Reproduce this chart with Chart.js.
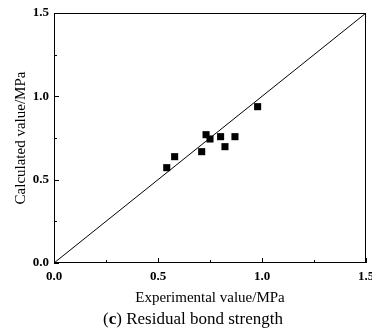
<!DOCTYPE html>
<html lang="en">
<head>
<meta charset="UTF-8">
<title>Residual bond strength</title>
<script src="https://cdn.jsdelivr.net/npm/chart.js"></script>
<style>
  html, body { margin: 0; padding: 0; background: #fff; overflow: hidden; }
  .wrap { width: 372px; height: 331px; }
</style>
</head>
<body>
<div class="wrap"><canvas id="myChart" width="372" height="331"></canvas></div>
<script>
  // Data
  const experimental = [0.542, 0.580, 0.710, 0.731, 0.750, 0.801, 0.822, 0.870, 0.979];
  const calculated   = [0.572, 0.638, 0.668, 0.770, 0.744, 0.758, 0.698, 0.758, 0.938];
  const lineEnds = [0, 1.5];          // 1:1 reference line
  const majorTicks = [0, 0.5, 1.0, 1.5];
  const minorTicks = [0.25, 0.75, 1.25];

  const serif = "'Liberation Serif', 'Times New Roman', serif";

  // inward tick marks + frame + caption
  const framePlugin = {
    id: 'frame',
    afterDraw(chart) {
      const ctx = chart.ctx;
      const a = chart.chartArea;
      const xs = chart.scales.x, ys = chart.scales.y;
      ctx.save();
      ctx.strokeStyle = '#000';
      ctx.lineWidth = 1;
      ctx.strokeRect(a.left + 0.5, a.top + 0.5, a.right - a.left - 1, a.bottom - a.top - 1);
      ctx.beginPath();
      majorTicks.forEach(v => {
        const px = Math.round(xs.getPixelForValue(v)) + 0.5;
        const py = Math.round(ys.getPixelForValue(v)) + 0.5;
        ctx.moveTo(px, a.bottom); ctx.lineTo(px, a.bottom - 5);
        ctx.moveTo(a.left, py); ctx.lineTo(a.left + 5, py);
      });
      minorTicks.forEach(v => {
        const px = Math.round(xs.getPixelForValue(v)) + 0.5;
        const py = Math.round(ys.getPixelForValue(v)) + 0.5;
        ctx.moveTo(px, a.bottom); ctx.lineTo(px, a.bottom - 3);
        ctx.moveTo(a.left, py); ctx.lineTo(a.left + 3, py);
      });
      ctx.stroke();

      // caption "(c) Residual bond strength" with bold c
      const parts = [['(', 'normal'], ['c', 'bold'], [') Residual bond strength', 'normal']];
      let total = 0;
      parts.forEach(p => { ctx.font = p[1] + ' 17px ' + serif; total += ctx.measureText(p[0]).width; });
      let x = 193 - total / 2;
      ctx.fillStyle = '#000';
      ctx.textBaseline = 'alphabetic';
      ctx.textAlign = 'left';
      parts.forEach(p => {
        ctx.font = p[1] + ' 17px ' + serif;
        ctx.fillText(p[0], x, 324);
        x += ctx.measureText(p[0]).width;
      });
      ctx.restore();
    }
  };

  const points = experimental.map((v, i) => ({x: v, y: calculated[i]}));

  const config = {
    type: 'scatter',
    data: {
      datasets: [
        {
          label: 'y = x',
          data: lineEnds.map(v => ({x: v, y: v})),
          showLine: true,
          borderColor: '#000',
          borderWidth: 1,
          pointRadius: 0
        },
        {
          label: 'Residual bond strength',
          data: points,
          pointStyle: 'rect',
          pointRadius: 5,
          backgroundColor: '#000',
          borderColor: '#000',
          borderWidth: 0
        }
      ]
    },
    options: {
      responsive: false,
      animation: false,
      devicePixelRatio: 1,
      layout: { padding: { top: 13, right: 6, left: 0, bottom: 0 } },
      scales: {
        x: {
          type: 'linear',
          min: 0, max: 1.5,
          afterBuildTicks(scale) { scale.ticks = majorTicks.map(v => ({value: v})); },
          afterFit(scale) { scale.height = 68; scale.paddingLeft = 0; scale.paddingRight = 0; },
          grid: { display: false, drawTicks: false },
          border: { display: false },
          ticks: {
            color: '#000', padding: 6, maxRotation: 0,
            font: { family: serif, size: 13, weight: 'bold' },
            callback: v => v.toFixed(1)
          },
          title: {
            display: true, text: 'Experimental value/MPa', color: '#000',
            font: { family: serif, size: 15 },
            padding: { top: 0, bottom: 24 }
          }
        },
        y: {
          type: 'linear',
          min: 0, max: 1.5,
          afterBuildTicks(scale) { scale.ticks = majorTicks.map(v => ({value: v})); },
          afterFit(scale) { scale.width = 54; scale.paddingTop = 0; scale.paddingBottom = 0; },
          grid: { display: false, drawTicks: false },
          border: { display: false },
          ticks: {
            color: '#000', padding: 5,
            font: { family: serif, size: 13, weight: 'bold' },
            callback: v => v.toFixed(1)
          },
          title: {
            display: true, text: 'Calculated value/MPa', color: '#000',
            font: { family: serif, size: 15 },
            padding: { top: 12, bottom: 0 }
          }
        }
      },
      plugins: {
        legend: { display: false },
        tooltip: { enabled: false }
      }
    },
    plugins: [framePlugin]
  };

  const ctx = document.getElementById('myChart').getContext('2d');
  const myChart = new Chart(ctx, config);
</script>
</body>
</html>
